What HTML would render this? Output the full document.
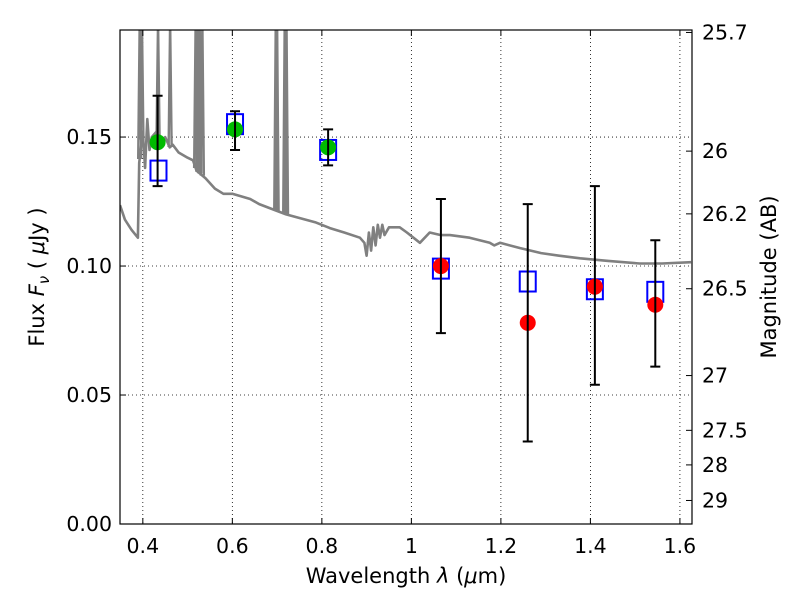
<!DOCTYPE html>
<html><head><meta charset="utf-8"><style>
body{margin:0;background:#fff;}
svg{font-family:"DejaVu Sans","Liberation Sans",sans-serif;}
</style></head><body>
<svg id="chart" width="800" height="600" xmlns="http://www.w3.org/2000/svg">
<defs><clipPath id="clip"><rect x="120" y="30" width="572" height="494"/></clipPath></defs>
<rect x="0" y="0" width="800" height="600" fill="#fff"/>
<g id="grid"></g>
<g id="plot" clip-path="url(#clip)"></g>
<rect x="120" y="30" width="572" height="494" fill="none" stroke="#000" stroke-width="1.2"/>
<g id="axes"></g>
<text x="406" y="583" font-size="21" text-anchor="middle">Wavelength  <tspan font-style="italic">λ</tspan> (<tspan font-style="italic">μ</tspan>m)</text>
<text transform="translate(44,277) rotate(-90)" font-size="21" text-anchor="middle">Flux  <tspan font-style="italic">F</tspan><tspan font-style="italic" font-size="15" dy="5">ν</tspan><tspan dy="-5">  ( </tspan><tspan font-style="italic">μ</tspan>Jy )</text>
<text transform="translate(776,277) rotate(-90)" font-size="21" text-anchor="middle">Magnitude (AB)</text>
</svg>
<script>
const xTicks=[0.4,0.6,0.8,1.0,1.2,1.4,1.6];
const xTickLabels=["0.4","0.6","0.8","1","1.2","1.4","1.6"];
const yTicks=[0,0.05,0.10,0.15];
const yTickLabels=["0.00","0.05","0.10","0.15"];
const magTicks=[25.7,26,26.2,26.5,27,27.5,28,29];
const magTickLabels=["25.7","26","26.2","26.5","27","27.5","28","29"];
const specWave=[0.349,0.36,0.375,0.389,0.392,0.40,0.405,0.41,0.415,0.42,0.43,0.44,0.45,0.46,0.467,0.48,0.49,0.50,0.512,0.52,0.54,0.561,0.58,0.60,0.62,0.64,0.66,0.695,0.72,0.751,0.785,0.818,0.85,0.885,0.895,0.9,0.905,0.91,0.915,0.92,0.925,0.93,0.935,0.94,0.95,0.974,0.99,1.019,1.041,1.066,1.086,1.13,1.175,1.185,1.198,1.242,1.29,1.33,1.377,1.44,1.51,1.56,1.625];
const specFlux=[0.1236,0.118,0.114,0.111,0.14,0.152,0.138,0.157,0.145,0.150,0.152,0.148,0.150,0.146,0.147,0.144,0.143,0.142,0.141,0.137,0.134,0.130,0.128,0.128,0.127,0.126,0.124,0.1217,0.120,0.1186,0.117,0.1147,0.113,0.111,0.109,0.104,0.113,0.106,0.115,0.108,0.116,0.111,0.116,0.112,0.115,0.115,0.113,0.109,0.113,0.112,0.112,0.111,0.109,0.108,0.109,0.107,0.105,0.104,0.103,0.102,0.101,0.101,0.1015];
const lineWave=[0.393,0.398,0.434,0.461,0.518,0.523,0.527,0.533,0.697,0.700,0.717,0.721];
const obsWave=[0.433,0.606,0.814,1.066,1.26,1.41,1.545];
const obsFlux=[0.148,0.153,0.146,0.100,0.078,0.092,0.085];
const obsLow=[0.131,0.145,0.139,0.074,0.032,0.054,0.061];
const obsHigh=[0.166,0.160,0.153,0.126,0.124,0.131,0.110];
const modelWave=[0.435,0.606,0.814,1.066,1.26,1.41,1.545];
const modelFlux=[0.137,0.155,0.145,0.099,0.094,0.091,0.090];

const X0=120,X1=692,Y0=524,Y1=30,xmin=0.349,xmax=1.627,ymin=0,ymax=0.1915;
const sx=v=>X0+(v-xmin)/(xmax-xmin)*(X1-X0);
const sy=v=>Y0-(v-ymin)/(ymax-ymin)*(Y0-Y1);
const magToFlux=m=>Math.pow(10,(23.9-m)/2.5);
const NS="http://www.w3.org/2000/svg";
function mk(tag,attrs,parent){const e=document.createElementNS(NS,tag);for(const k in attrs)e.setAttribute(k,attrs[k]);parent.appendChild(e);return e;}
const grid=document.getElementById('grid'),plot=document.getElementById('plot'),axes=document.getElementById('axes');
xTicks.forEach((t,i)=>{const x=sx(t);
 const g=mk('line',{x1:x,x2:x,y1:Y1,y2:Y0,stroke:'#000','stroke-width':0.8,'stroke-dasharray':'1,3'},grid);
 
 mk('line',{x1:x,x2:x,y1:Y0,y2:Y0-6,stroke:'#000'},axes);mk('line',{x1:x,x2:x,y1:Y1,y2:Y1+6,stroke:'#000'},axes);
 const tx=mk('text',{x:x,y:553,'font-size':20.5,'text-anchor':'middle'},axes);tx.textContent=xTickLabels[i];
 });
yTicks.forEach((t,i)=>{const y=sy(t);
 const g=mk('line',{x1:X0,x2:X1,y1:y,y2:y,stroke:'#000','stroke-width':0.8,'stroke-dasharray':'1,3'},grid);
 
 mk('line',{x1:X0,x2:X0+6,y1:y,y2:y,stroke:'#000'},axes);
 const tx=mk('text',{x:112,y:y+7,'font-size':20.5,'text-anchor':'end'},axes);tx.textContent=yTickLabels[i];
 });
magTicks.forEach((m,i)=>{const y=sy(magToFlux(m));
 mk('line',{x1:X1,x2:X1-6,y1:y,y2:y,stroke:'#000'},axes);
 const tx=mk('text',{x:702,y:y+7,'font-size':20.5},axes);tx.textContent=magTickLabels[i];
 });
let d=specWave.map((w,i)=>(i?'L':'M')+sx(w).toFixed(1)+','+sy(specFlux[i]).toFixed(1)).join(' ');
const sp=mk('path',{d:d,fill:'none',stroke:'#808080','stroke-width':2.6,'stroke-linejoin':'round'},plot);

function interp(w){for(let i=1;i<specWave.length;i++){if(w<=specWave[i]){const f=(w-specWave[i-1])/(specWave[i]-specWave[i-1]);return specFlux[i-1]+f*(specFlux[i]-specFlux[i-1]);}}return specFlux[specFlux.length-1];}
lineWave.forEach(w=>{const x=sx(w);const l=mk('path',{d:`M${x-1.5},${sy(interp(w))} L${x},${Y1-10} L${x+1.5},${sy(interp(w))}`,fill:'none',stroke:'#808080','stroke-width':2.4},plot);
 });
modelWave.forEach((w,i)=>{const r=mk('rect',{x:sx(w)-8,y:sy(modelFlux[i])-10,width:16,height:20,fill:'none',stroke:'#0000ff','stroke-width':2},plot);
 });
obsWave.forEach((w,i)=>{const x=sx(w);const col=w<0.9?'#00bb00':'#ff0000';
 const c=mk('circle',{cx:x,cy:sy(obsFlux[i]),r:8,fill:col},plot);
 
 const e=mk('path',{d:`M${x},${sy(obsLow[i])} L${x},${sy(obsHigh[i])} M${x-5},${sy(obsLow[i])} L${x+5},${sy(obsLow[i])} M${x-5},${sy(obsHigh[i])} L${x+5},${sy(obsHigh[i])}`,stroke:'#000','stroke-width':2,fill:'none'},plot);
 });
</script>
</body></html>
